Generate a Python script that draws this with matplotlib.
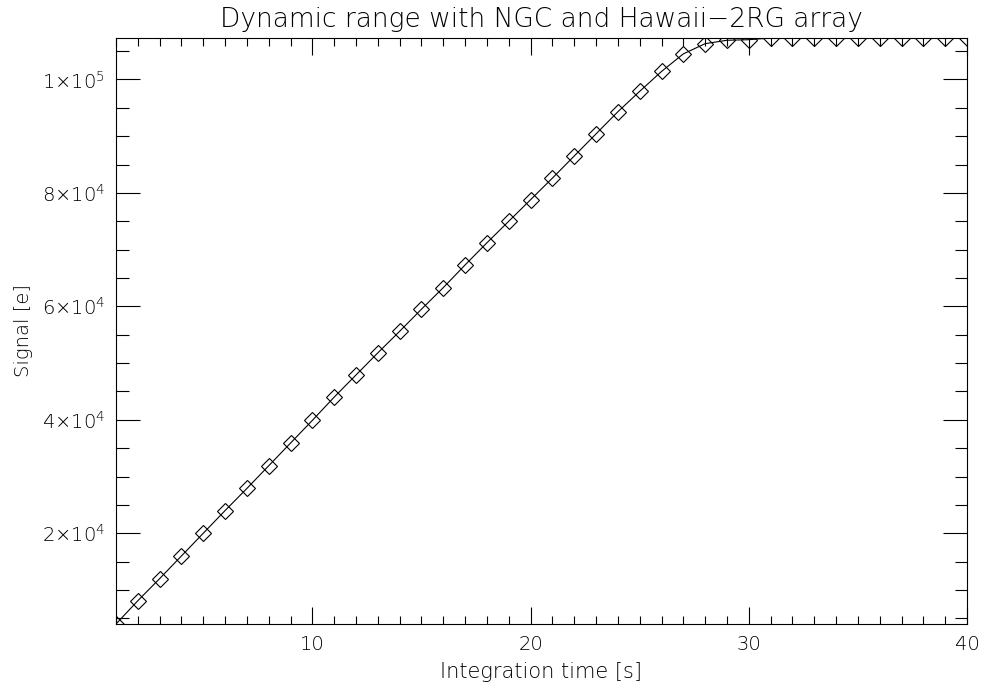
import numpy as np
import matplotlib
matplotlib.use("Agg")
import matplotlib.pyplot as plt
from matplotlib.ticker import MultipleLocator, FuncFormatter

# ---------------- Data ----------------
int_time = list(range(1, 41))
signal = [
    4000, 8100, 12000, 16000, 20000, 24000, 27900, 31900, 35900, 39900,
    44000, 47900, 51800, 55600, 59500, 63300, 67300, 71200, 75000, 78800,
    82600, 86500, 90400, 94300, 97900, 101400, 104500, 106300, 106900, 107000,
    107300, 107300, 107300, 107300, 107300, 107300, 107300, 107300, 107300, 107300,
]
x_ticks = [10, 20, 30, 40]
y_ticks = [20000, 40000, 60000, 80000, 100000]

# ---------------- Plot ----------------
plt.rcParams["font.family"] = ["DejaVu Sans"]
plt.rcParams["font.weight"] = "light"
plt.rcParams["axes.titleweight"] = "light"
plt.rcParams["axes.labelweight"] = "light"
plt.rcParams["mathtext.fontset"] = "dejavusans"

fig = plt.figure(figsize=(9.85, 6.91), dpi=100)
ax = fig.add_axes([116 / 985, 1 - 624 / 691, (967 - 116) / 985, (624 - 38) / 691])

ax.plot(int_time, signal, color="black", lw=0.8, marker="D", ms=8.5,
        mfc="none", mec="black", mew=0.8)

ax.set_xlim(min(int_time), max(int_time))
ax.set_ylim(signal[0], max(signal))

ax.set_xticks(x_ticks)
ax.xaxis.set_minor_locator(MultipleLocator(1))
ax.set_yticks(y_ticks)
ax.yaxis.set_minor_locator(MultipleLocator(5000))


def sci_fmt(v, pos):
    exp = int(np.floor(np.log10(v)))
    mant = v / 10 ** exp
    return r"$%d{\times}10^{%d}$" % (round(mant), exp)


ax.yaxis.set_major_formatter(FuncFormatter(sci_fmt))

ax.tick_params(which="both", direction="in", top=True, right=True,
               width=0.8, colors="black", labelsize=14)
ax.tick_params(axis="x", which="major", length=12, pad=8)
ax.tick_params(axis="x", which="minor", length=6)
ax.tick_params(axis="y", which="major", length=17, pad=8)
ax.tick_params(axis="y", which="minor", length=9)
for s in ax.spines.values():
    s.set_linewidth(0.8)

ax.set_title("Dynamic range with NGC and Hawaii\u22122RG array", fontsize=19,
             pad=8, fontweight="light")
ax.set_xlabel("Integration time [s]", fontsize=15, labelpad=6, fontweight="light")
ax.set_ylabel("Signal [e]", fontsize=14, labelpad=6, fontweight="light")

fig.savefig("out.png", dpi=100)
